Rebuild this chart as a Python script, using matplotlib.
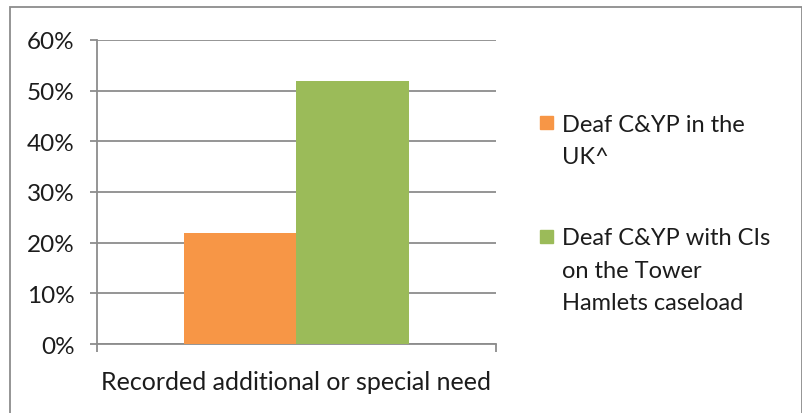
import matplotlib
matplotlib.use("Agg")
import matplotlib.pyplot as plt
from matplotlib.patches import Rectangle
from matplotlib.ticker import PercentFormatter

category = "Recorded additional or special need"
series_labels = ["Deaf C&YP in the\nUK^",
                 "Deaf C&YP with CIs\non the Tower\nHamlets caseload"]
series_values = [22, 52]
series_colors = ["#F79646", "#9BBB59"]
y_ticks = [0, 10, 20, 30, 40, 50, 60]

plt.rcParams['font.family'] = ['Lato', 'DejaVu Sans']
grey = "#8c8c8c"
ink = "#1c1c1c"

fig = plt.figure(figsize=(8.03, 4.14), dpi=100)
ax = fig.add_axes([97 / 803, 1 - 345 / 414, 399 / 803, 304 / 414])

width = 0.283
offsets = [-width / 2, width / 2]
for off, val, col in zip(offsets, series_values, series_colors):
    ax.bar(off, val, width=width, color=col, zorder=3)

ax.set_xlim(-0.5, 0.5)
ax.set_ylim(0, 60)
ax.set_yticks(y_ticks)
ax.yaxis.set_major_formatter(PercentFormatter(decimals=0))
ax.grid(axis='y', color=grey, linewidth=1.3, zorder=0)

ax.set_xticks([0])
ax.set_xticklabels([category])
ax.set_xticks([-0.5, 0.5], minor=True)
ax.tick_params(axis='x', which='major', length=0, pad=19, labelsize=18, colors=ink)
ax.tick_params(axis='x', which='minor', length=6, width=1.3, color=grey)
ax.tick_params(axis='y', length=5, width=1.3, color=grey, pad=11, labelsize=17.5,
               labelcolor=ink)

for side in ['top', 'right']:
    ax.spines[side].set_visible(False)
for side in ['left', 'bottom']:
    ax.spines[side].set_color(grey)
    ax.spines[side].set_linewidth(1.3)

# legend drawn by hand: colour squares and wrapped labels, one line at a time
leg_y = [123, 237]
line_step = 32.5
for y, lab, col in zip(leg_y, series_labels, series_colors):
    fig.patches.append(Rectangle((540 / 803, 1 - (y + 6.5) / 414), 13 / 803, 13 / 414,
                                 transform=fig.transFigure, color=col))
    for i, line in enumerate(lab.split("\n")):
        fig.text(562 / 803, 1 - (y + i * line_step) / 414, line, fontsize=17,
                 color=ink, va='center_baseline', ha='left')

# outer frame around the chart area
fig.patches.append(Rectangle((10 / 803, -0.1), 792 / 803, 1.1 - 8 / 414,
                             transform=fig.transFigure, fill=False,
                             edgecolor=grey, linewidth=1.3))

fig.savefig("out.png", dpi=100)
